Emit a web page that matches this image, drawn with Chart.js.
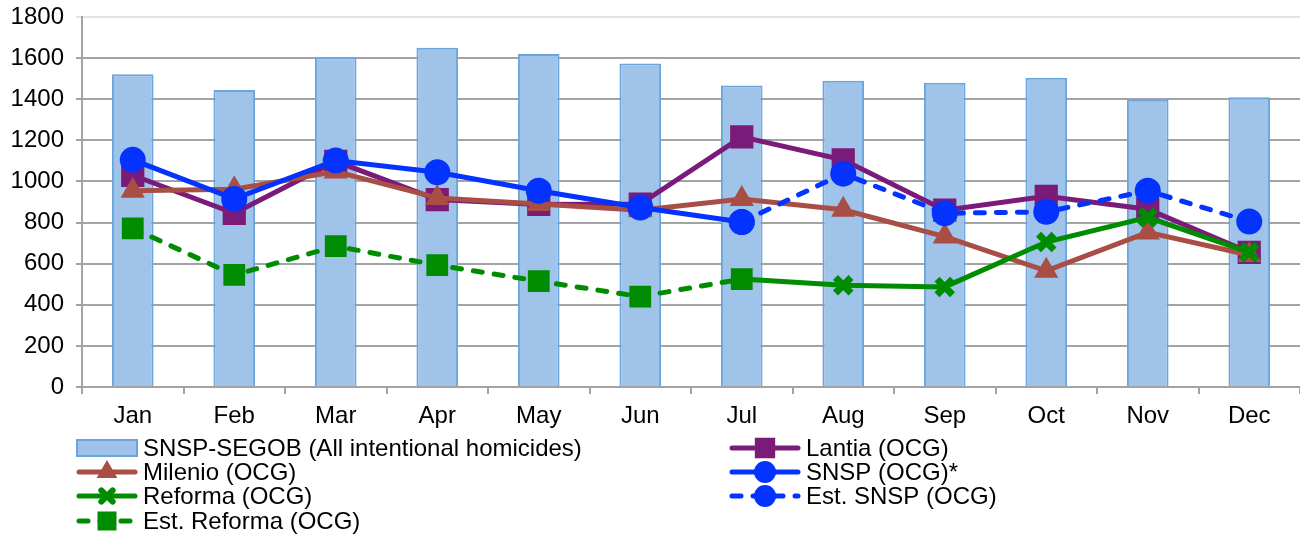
<!DOCTYPE html>
<html>
<head>
<meta charset="utf-8">
<script src="https://cdn.jsdelivr.net/npm/chart.js@4"></script>
<style>
  html, body { margin: 0; padding: 0; background: #fff; }
  canvas { display: block; }
</style>
</head>
<body>
<canvas id="chart" width="1300" height="537"></canvas>
<script>
// meses e series
const meses = ['Jan', 'Feb', 'Mar', 'Apr', 'May', 'Jun', 'Jul', 'Aug', 'Sep', 'Oct', 'Nov', 'Dec'];
const yTicks = [0, 200, 400, 600, 800, 1000, 1200, 1400, 1600, 1800];

const snspSegob = [1522, 1445, 1604, 1650, 1620, 1574, 1467, 1490, 1480, 1504, 1397, 1410];
const lantia = [1030, 845, 1098, 912, 888, 890, 1217, 1105, 860, 928, 865, 655];
const milenio = [955, 962, 1048, 920, 890, 860, 915, 862, 732, 565, 752, 642];
const snsp = [1105, 915, 1102, 1045, 955, 873, 803, null, null, null, null, null];
const reforma = [null, null, null, null, null, null, 525, 495, 487, 705, 825, 655];
const estSnsp = [null, null, null, null, null, null, 803, 1038, 845, 852, 955, 805];
const estReforma = [772, 545, 685, 593, 515, 440, 525, null, null, null, null, null];

const roxo = '#7b1b79';
const marrom = '#a94e45';
const azul = '#0433ff';
const verde = '#008c00';
const barraFundo = '#9fc3e9';
const barraBorda = '#6aa6dd';
const cinza = '#a3a3a3';

Chart.defaults.font.family = '"Liberation Sans", Arial, sans-serif';
Chart.defaults.font.size = 24;
Chart.defaults.color = '#000';

function linha(label, dados, cor, estilo, raio, ordem, tracejado) {
    return {
        type: 'line',
        label: label,
        data: dados,
        borderColor: cor,
        backgroundColor: cor,
        borderWidth: 5,
        borderDash: tracejado ? [9, 12] : [],
        borderCapStyle: tracejado ? 'round' : 'butt',
        pointStyle: estilo,
        pointRadius: raio,
        pointBorderWidth: estilo === 'crossRot' ? 7 : 2,
        pointBorderColor: cor,
        pointBackgroundColor: cor,
        tension: 0,
        spanGaps: false,
        order: ordem
    };
}

// legenda desenhada a mao, em duas colunas
const itensLegenda = [
    { texto: 'SNSP-SEGOB (All intentional homicides)', barra: true, x1: 77, x2: 137, tx: 143, y: 448 },
    { texto: 'Milenio (OCG)', cor: marrom, estilo: 'triangle', raio: 10, x1: 76, x2: 138, tx: 143, y: 472 },
    { texto: 'Reforma (OCG)', cor: verde, estilo: 'crossRot', raio: 8, x1: 76, x2: 138, tx: 143, y: 496 },
    { texto: 'Est. Reforma (OCG)', cor: verde, estilo: 'rect', raio: 12, tracejado: true, x1: 76, x2: 138, tx: 143, y: 521 },
    { texto: 'Lantia (OCG)', cor: roxo, estilo: 'rect', raio: 13, x1: 729, x2: 801, tx: 806, y: 448 },
    { texto: 'SNSP (OCG)*', cor: azul, estilo: 'circle', raio: 10, x1: 729, x2: 801, tx: 806, y: 472 },
    { texto: 'Est. SNSP (OCG)', cor: azul, estilo: 'circle', raio: 10, tracejado: true, x1: 729, x2: 801, tx: 806, y: 496 }
];

const legendaPlugin = {
    id: 'legendaManual',
    afterDraw(chart) {
        const ctx = chart.ctx;
        ctx.save();
        itensLegenda.forEach(item => {
            if (item.barra) {
                ctx.fillStyle = barraFundo;
                ctx.strokeStyle = barraBorda;
                ctx.lineWidth = 2;
                ctx.fillRect(item.x1, item.y - 8, item.x2 - item.x1, 16);
                ctx.strokeRect(item.x1, item.y - 8, item.x2 - item.x1, 16);
            } else {
                ctx.strokeStyle = item.cor;
                ctx.fillStyle = item.cor;
                ctx.lineWidth = 5;
                ctx.lineCap = 'round';
                ctx.setLineDash(item.tracejado ? [9, 12] : []);
                ctx.beginPath();
                ctx.moveTo(item.x1 + 3, item.y);
                ctx.lineTo(item.x2 - 3, item.y);
                ctx.stroke();
                ctx.setLineDash([]);
                ctx.lineWidth = item.estilo === 'crossRot' ? 6 : 2;
                Chart.helpers.drawPoint(ctx, {
                    pointStyle: item.estilo,
                    radius: item.raio,
                    borderWidth: ctx.lineWidth,
                    rotation: 0
                }, (item.x1 + item.x2) / 2, item.y);
            }
            ctx.fillStyle = '#000';
            ctx.font = '24px "Liberation Sans", Arial, sans-serif';
            ctx.textAlign = 'left';
            ctx.textBaseline = 'middle';
            ctx.fillText(item.texto, item.tx, item.y + 1);
        });
        ctx.restore();
    }
};

const ctx = document.getElementById('chart').getContext('2d');
const chart = new Chart(ctx, {
    data: {
        labels: meses,
        datasets: [
            {
                type: 'bar',
                label: 'SNSP-SEGOB (All intentional homicides)',
                data: snspSegob,
                backgroundColor: barraFundo,
                borderColor: barraBorda,
                borderWidth: 2,
                barPercentage: 0.41,
                categoryPercentage: 1,
                order: 10
            },
            linha('Lantia (OCG)', lantia, roxo, 'rect', 15, 6, false),
            linha('Milenio (OCG)', milenio, marrom, 'triangle', 12, 5, false),
            linha('SNSP (OCG)*', snsp, azul, 'circle', 12, 4, false),
            linha('Reforma (OCG)', reforma, verde, 'crossRot', 11, 3, false),
            linha('Est. SNSP (OCG)', estSnsp, azul, 'circle', 12, 2, true),
            linha('Est. Reforma (OCG)', estReforma, verde, 'rect', 14, 1, true)
        ]
    },
    options: {
        responsive: false,
        animation: false,
        devicePixelRatio: 1,
        layout: { autoPadding: false, padding: { top: 17, right: 0, left: 0, bottom: 0 } },
        plugins: {
            legend: { display: false },
            tooltip: { enabled: false }
        },
        scales: {
            x: {
                offset: true,
                grid: {
                    offset: true,
                    drawOnChartArea: false,
                    drawTicks: true,
                    tickLength: 7,
                    color: cinza,
                    lineWidth: 2
                },
                border: { color: cinza, width: 2 },
                ticks: { padding: 8, maxRotation: 0, font: { size: 24 } },
                afterFit(scale) {
                    scale.height = 150;
                    scale.paddingLeft = 0;
                    scale.paddingRight = 0;
                }
            },
            y: {
                min: 0,
                max: 1800,
                afterBuildTicks(scale) { scale.ticks = yTicks.map(v => ({ value: v })); },
                grid: {
                    color: c => (c.tick && c.tick.value === 1800) ? '#e3e3e3' : cinza,
                    lineWidth: 2,
                    tickLength: 6
                },
                border: { color: cinza, width: 2 },
                ticks: { padding: 12, font: { size: 24 }, callback: v => String(v) },
                afterFit(scale) {
                    scale.width = 82;
                    scale.paddingTop = 0;
                    scale.paddingBottom = 0;
                }
            }
        }
    },
    plugins: [legendaPlugin]
});
</script>
</body>
</html>
